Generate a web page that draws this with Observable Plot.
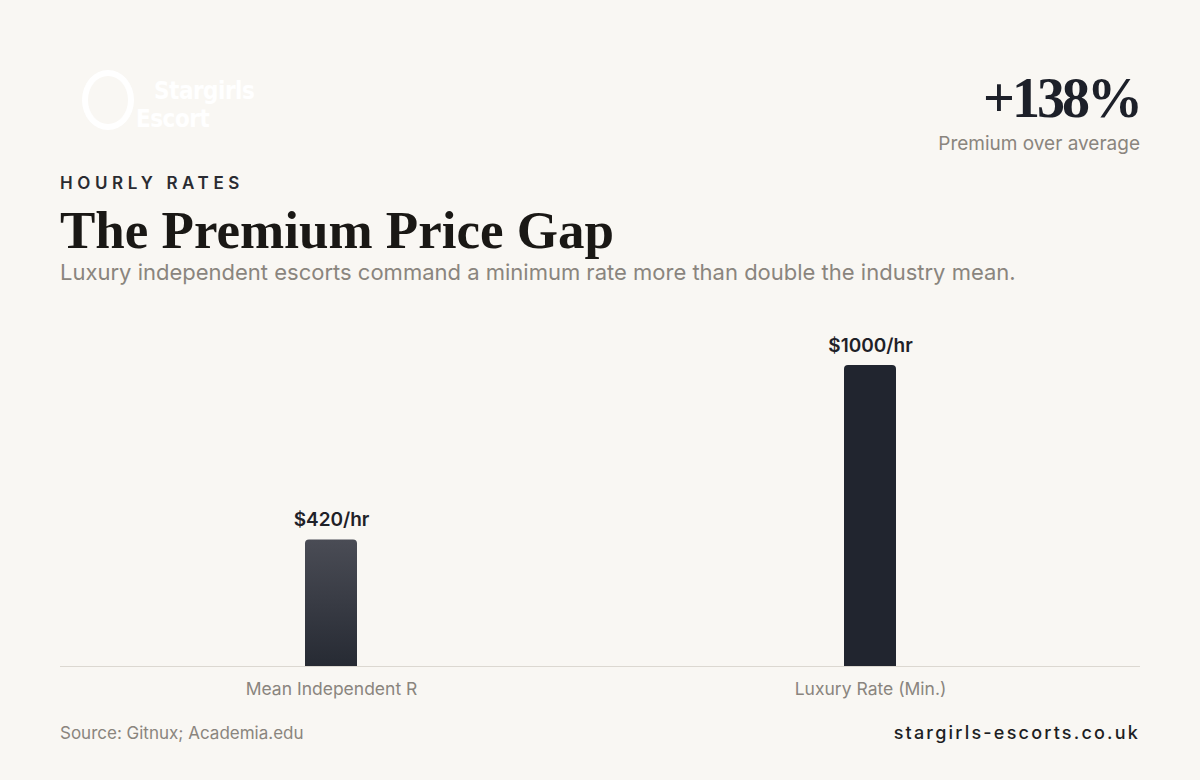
<!DOCTYPE html>
<html>
<head>
<meta charset="utf-8">
<script src="https://cdn.jsdelivr.net/npm/d3@7"></script>
<script src="https://cdn.jsdelivr.net/npm/@observablehq/plot@0.6"></script>
<style>
  html, body { margin: 0; padding: 0; }
  body { width: 1200px; height: 780px; background: #f9f7f3; position: relative; overflow: hidden; font-family: Inter, "Noto Sans", sans-serif; }
  .abs { position: absolute; }
  #logo { left: 82px; top: 66px; color: #ffffff; font-family: "DejaVu Sans Condensed", "DejaVu Sans", sans-serif; font-weight: 700; font-size: 24px; line-height: 26px; }
  #logo .ring { position: absolute; left: 0; top: 4px; width: 40px; height: 48px; border: 6px solid #fff; border-radius: 50%; }
  #logo .t1 { position: absolute; left: 72px; top: 12px; letter-spacing: -0.5px; }
  #logo .t2 { position: absolute; left: 54px; top: 40px; letter-spacing: -0.5px; }
  #kpi { right: 60px; top: 68px; text-align: right; }
  #kpi .num { font-family: "Liberation Serif", "DejaVu Serif", serif; font-weight: 700; font-size: 56px; line-height: 60px; letter-spacing: -3px; color: #1d2029; }
  #kpi .lbl { font-size: 19px; color: #8a857e; margin-top: 4px; }
  #eyebrow { left: 60px; top: 173px; font-size: 17px; font-weight: 600; letter-spacing: 4.6px; color: #2a2b31; }
  #title { left: 60px; top: 198px; font-family: "Liberation Serif", "DejaVu Serif", serif; font-weight: 700; font-size: 53px; line-height: 64px; color: #1a1815; }
  #sub { left: 60px; top: 259px; font-size: 22px; color: #8a857e; }
  #chart { left: 60px; top: 300px; }
  #source { left: 60px; top: 723px; font-size: 17px; color: #8a857e; }
  #site { right: 60px; top: 722px; font-size: 18px; font-weight: 500; letter-spacing: 2.2px; color: #1d1e23; }
</style>
</head>
<body>
<div id="logo" class="abs"><div class="ring"></div><span class="t1">Stargirls</span><span class="t2">Escort</span></div>
<div id="kpi" class="abs"><div class="num">+138%</div><div class="lbl">Premium over average</div></div>
<div id="eyebrow" class="abs">HOURLY RATES</div>
<div id="title" class="abs">The Premium Price Gap</div>
<div id="sub" class="abs">Luxury independent escorts command a minimum rate more than double the industry mean.</div>
<div id="chart" class="abs"></div>
<div id="source" class="abs">Source: Gitnux; Academia.edu</div>
<div id="site" class="abs">stargirls-escorts.co.uk</div>
<script>
const categories = ["Mean Independent R", "Luxury Rate (Min.)"];
const rates = [420, 1000];
const valueLabels = ["$420/hr", "$1000/hr"];

const data = categories.map((c, i) => ({category: c, rate: rates[i], label: valueLabels[i]}));
const fills = ["url(#barGradA)", "#21252f"];

const chart = Plot.plot({
  width: 1080,
  height: 410,
  marginLeft: 0,
  marginRight: 0,
  marginTop: 65,
  marginBottom: 44,
  style: {background: "transparent", fontFamily: "Inter, sans-serif", overflow: "visible"},
  x: {domain: categories, paddingInner: 0.9037, paddingOuter: 0.4519, label: null},
  y: {domain: [0, 1000], axis: null},
  color: {type: "identity"},
  marks: [
    Plot.barY(data, {x: "category", y: "rate", fill: (d) => fills[categories.indexOf(d.category)], rx: 4, insetBottom: -5, clip: true}),
    Plot.ruleY([0], {stroke: "#dcd8d1", strokeWidth: 1}),
    Plot.text(data, {x: "category", y: "rate", text: "label", dy: -20, fontSize: 19, fontWeight: 600, fill: "#1f2128"}),
    Plot.axisX({tickSize: 0, tickPadding: 16, fontSize: 17.5, color: "#8a857e", label: null})
  ]
});

const defs = d3.select(chart).insert("defs", ":first-child");
const g = defs.append("linearGradient").attr("id", "barGradA").attr("x1", 0).attr("y1", 0).attr("x2", 0).attr("y2", 1);
g.append("stop").attr("offset", "0%").attr("stop-color", "#4a4c55");
g.append("stop").attr("offset", "100%").attr("stop-color", "#252932");

document.getElementById("chart").appendChild(chart);
</script>
</body>
</html>
